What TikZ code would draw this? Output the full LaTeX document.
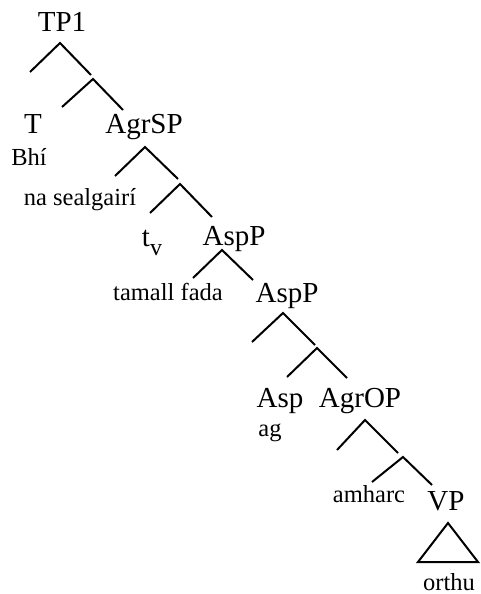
\documentclass[tikz,border=0pt]{standalone}
\usepackage{fontspec}
\setmainfont{Liberation Serif}
\usetikzlibrary{positioning}

\begin{document}
\begin{tikzpicture}[
  x=1pt, y=-1pt,
  rotulo/.style={anchor=base, inner sep=0pt, font=\fontsize{29}{32}\selectfont},
  palavra/.style={anchor=base, inner sep=0pt, font=\fontsize{24.5}{27}\selectfont},
  galho/.style={line width=2pt, line join=miter}
]
  \useasboundingbox (0,0) rectangle (480,594);

  % category labels
  \node[rotulo] (tp) at (62,32) {TP1};
  \node[rotulo] (t) at (33,133) {T};
  \node[rotulo] (agrsp) at (144,133) {AgrSP};
  \node[rotulo] (tv) at (152,246) {t\raisebox{-9pt}{\fontsize{24}{26}\selectfont v}};
  \node[rotulo] (aspp1) at (234,245) {AspP};
  \node[rotulo] (aspp2) at (287,302) {AspP};
  \node[rotulo] (asp) at (280,407) {Asp};
  \node[rotulo] (agrop) at (360,407) {AgrOP};
  \node[rotulo] (vp) at (446,510) {VP};

  % words
  \node[palavra] (bhi) at (29,165) {Bhí};
  \node[palavra] (sealg) at (80,205) {na sealgairí};
  \node[palavra] (tamall) at (168,300) {tamall fada};
  \node[palavra] (ag) at (270,436) {ag};
  \node[palavra] (amharc) at (369,502) {amharc};
  \node[palavra] (orthu) at (449,590) {orthu};

  % branching points
  \coordinate (k1) at (60,43);   \coordinate (k1l) at (30,72);   \coordinate (k1r) at (91,75);
  \coordinate (k2) at (93,79);   \coordinate (k2l) at (62,107);  \coordinate (k2r) at (123,110);
  \coordinate (k3) at (145,147); \coordinate (k3l) at (115,176); \coordinate (k3r) at (178,179);
  \coordinate (k4) at (180,184); \coordinate (k4l) at (150,213); \coordinate (k4r) at (212,217);
  \coordinate (k5) at (222,250); \coordinate (k5l) at (193,278); \coordinate (k5r) at (253,280);
  \coordinate (k6) at (283,313); \coordinate (k6l) at (252,342); \coordinate (k6r) at (315,345);
  \coordinate (k7) at (317,348); \coordinate (k7l) at (287,377); \coordinate (k7r) at (347,378);
  \coordinate (k8) at (365,420); \coordinate (k8l) at (337,450); \coordinate (k8r) at (398,453);
  \coordinate (k9) at (403,457); \coordinate (k9l) at (372,482); \coordinate (k9r) at (432,485);

  \draw[galho] (k1l) -- (k1) -- (k1r);
  \draw[galho] (k2l) -- (k2) -- (k2r);
  \draw[galho] (k3l) -- (k3) -- (k3r);
  \draw[galho] (k4l) -- (k4) -- (k4r);
  \draw[galho] (k5l) -- (k5) -- (k5r);
  \draw[galho] (k6l) -- (k6) -- (k6r);
  \draw[galho] (k7l) -- (k7) -- (k7r);
  \draw[galho] (k8l) -- (k8) -- (k8r);
  \draw[galho] (k9l) -- (k9) -- (k9r);

  % triangle under VP
  \coordinate (tri) at (448,523);
  \coordinate (tril) at (418,562);
  \coordinate (trir) at (478,562);
  \draw[galho] (tri) -- (tril) -- (trir) -- cycle;
\end{tikzpicture}
\end{document}
